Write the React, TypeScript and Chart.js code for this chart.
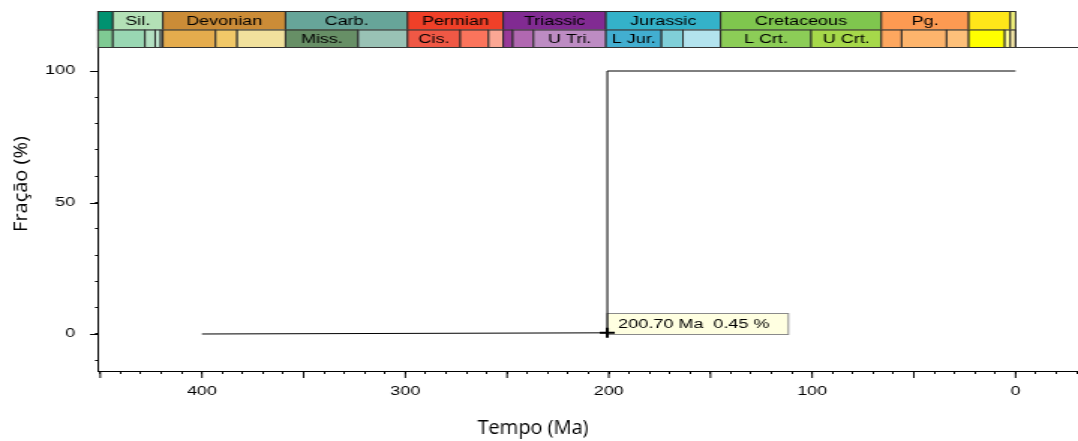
import React, { useEffect, useRef } from 'react';
import { Chart, registerables } from 'chart.js';

Chart.register(...registerables);

// ---- data ----
const stepAges = [400, 200.7, 200.7, 0];
const stepFractions = [0, 0.45, 100, 100];
const markerAge = [200.7];
const markerFraction = [0.45];
const markerLabel = '200.70 Ma  0.45 %';

const xTitle = 'Tempo (Ma)';
const yTitle = 'Fração (%)';

const periodLabels = ['', 'Sil.', 'Devonian', 'Carb.', 'Permian', 'Triassic', 'Jurassic', 'Cretaceous', 'Pg.', '', ''];
const periodStarts = [485.4, 443.8, 419.2, 358.9, 298.9, 251.9, 201.4, 145, 66, 23.03, 2.58];
const periodEnds = [443.8, 419.2, 358.9, 298.9, 251.9, 201.4, 145, 66, 23.03, 2.58, 0];
const periodColors = ['#009270', '#B3E1B6', '#CB8C37', '#67A599', '#F04028', '#812B92', '#34B2C9', '#7FC64E', '#FD9A52', '#FFE619', '#F9F97F'];

const epochLabels = ['', '', '', '', '', '', '', '', 'Miss.', '', 'Cis.', '', '', '', '', 'U Tri.', 'L Jur.', '', '', 'L Crt.', 'U Crt.', '', '', '', '', '', '', ''];
const epochStarts = [458.4, 443.8, 428, 423, 420.3, 419.2, 393.3, 382.7, 358.9, 323.2, 298.9, 273, 259.1, 251.9, 247.2, 237, 201.4, 174.1, 163.5, 145, 100.5, 66, 56, 33.9, 23.03, 5.333, 2.58, 0.0117];
const epochEnds = [443.8, 428, 423, 420.3, 419.2, 393.3, 382.7, 358.9, 323.2, 298.9, 273, 259.1, 251.9, 247.2, 237, 201.4, 174.1, 163.5, 145, 100.5, 66, 56, 33.9, 23.03, 5.333, 2.58, 0.0117, 0];
const epochColors = ['#7FCA93', '#99D7B3', '#B3E1C2', '#BFE6CF', '#E6F5E1', '#E5AC4D', '#F1C868', '#F1E19D', '#678F66', '#99C2B5', '#EF5845', '#FB745C', '#FBA794', '#983999', '#B168B1', '#BD8CC3', '#42AED0', '#80CFD8', '#B3E3EE', '#8CCD57', '#A6D84A', '#FDA75F', '#FDB46C', '#FDC07A', '#FFFF00', '#FFFF99', '#FFF2AE', '#FEF2E0'];

const xMin = -30.7;
const xMax = 451.1;
const yMin = -14.07;
const yMax = 108.75;

// ---- layout (internal canvas is narrower and stretched horizontally by CSS) ----
const CSS_W = 1078;
const H = 441;
const W = 719;
const SX = CSS_W / W;
const FONT = '"Liberation Sans", Arial, sans-serif';

function drawRow(ctx: any, xs: any, area: any, starts: number[], ends: number[], labels: string[], colors: string[], top: number, bottom: number) {
  ctx.save();
  ctx.font = `12px ${FONT}`;
  ctx.textAlign = 'center';
  ctx.textBaseline = 'middle';
  for (let i = 0; i < starts.length; i++) {
    const a = xs.getPixelForValue(starts[i]);
    const b = xs.getPixelForValue(ends[i]);
    const x0 = Math.max(Math.min(a, b), area.left);
    const x1 = Math.min(Math.max(a, b), area.right);
    if (x1 <= x0) continue;
    ctx.fillStyle = colors[i];
    ctx.fillRect(x0, top, x1 - x0, bottom - top);
    ctx.strokeStyle = '#2a2a2a';
    ctx.lineWidth = 1;
    ctx.strokeRect(x0, top + 0.5, x1 - x0, bottom - top);
    if (labels[i]) {
      ctx.fillStyle = '#000';
      ctx.fillText(labels[i], (x0 + x1) / 2, (top + bottom) / 2 + 1);
    }
  }
  ctx.restore();
}

const overlayPlugin = {
  id: 'overlay',
  beforeDatasetsDraw(chart: any) {
    const ctx = chart.ctx;
    const xs = chart.scales.x;
    const ys = chart.scales.y;
    const px = xs.getPixelForValue(markerAge[0]);
    const py = ys.getPixelForValue(markerFraction[0]);
    ctx.save();
    ctx.font = `12px ${FONT}`;
    const tw = ctx.measureText(markerLabel).width;
    const bx = px;
    const by = Math.round(py) - 20;
    const bw = tw + 20;
    const bh = 21;
    ctx.fillStyle = '#FFFFE1';
    ctx.fillRect(bx, by, bw, bh);
    ctx.strokeStyle = '#8a8a8a';
    ctx.lineWidth = 1;
    ctx.strokeRect(bx, by + 0.5, bw, bh);
    ctx.fillStyle = '#000';
    ctx.textAlign = 'left';
    ctx.textBaseline = 'middle';
    ctx.fillText(markerLabel, bx + 7.3, by + bh / 2 + 1);
    ctx.restore();
  },
  afterDraw(chart: any) {
    const ctx = chart.ctx;
    const xs = chart.scales.x;
    const ys = chart.scales.y;
    const area = chart.chartArea;

    // geologic time scale
    drawRow(ctx, xs, area, periodStarts, periodEnds, periodLabels, periodColors, 11, 29.5);
    drawRow(ctx, xs, area, epochStarts, epochEnds, epochLabels, epochColors, 29.5, 47);

    ctx.save();
    // top frame line
    ctx.strokeStyle = '#333';
    ctx.lineWidth = 1;
    ctx.beginPath();
    ctx.moveTo(area.left, 47.5);
    ctx.lineTo(area.right, 47.5);
    ctx.stroke();

    // longer ticks at multiples of 50
    ctx.strokeStyle = '#000';
    ctx.beginPath();
    xs.ticks.forEach((t: any) => {
      if (t.value % 50 === 0) {
        const p = xs.getPixelForValue(t.value);
        ctx.moveTo(p, area.bottom);
        ctx.lineTo(p, area.bottom + 7);
      }
    });
    ys.ticks.forEach((t: any) => {
      if (t.value % 50 === 0) {
        const p = Math.round(ys.getPixelForValue(t.value)) + 0.5;
        ctx.moveTo(area.left, p);
        ctx.lineTo(area.left - 8 / SX, p);
      }
    });
    ctx.stroke();

    // axis titles drawn unstretched
    ctx.scale(1 / SX, 1);
    ctx.fillStyle = '#000';
    ctx.font = '20px "Open Sans", "Noto Sans", sans-serif';
    ctx.textAlign = 'center';
    ctx.textBaseline = 'alphabetic';
    ctx.fillText(xTitle, 533, 434);
    ctx.translate(27, 184);
    ctx.rotate(-Math.PI / 2);
    ctx.fillText(yTitle, 0, 0);
    ctx.restore();
  },
};

export default function App() {
  const ref = useRef<HTMLCanvasElement | null>(null);

  useEffect(() => {
    if (!ref.current) return;
    const chart = new Chart(ref.current, {
      type: 'line',
      data: {
        datasets: [
          {
            type: 'line',
            data: stepAges.map((a, i) => ({ x: a, y: stepFractions[i] })),
            borderColor: '#000',
            borderWidth: 1,
            pointRadius: 0,
            tension: 0,
            fill: false,
          },
          {
            type: 'scatter',
            data: markerAge.map((a, i) => ({ x: a, y: markerFraction[i] })),
            pointStyle: 'cross',
            pointRadius: 5,
            borderColor: '#000',
            borderWidth: 2,
            backgroundColor: '#000',
          },
        ],
      },
      options: {
        responsive: false,
        devicePixelRatio: 1,
        animation: false,
        layout: { autoPadding: false, padding: { top: 48, left: 0, right: 0, bottom: 0 } },
        plugins: { legend: { display: false }, tooltip: { enabled: false } },
        scales: {
          x: {
            type: 'linear',
            reverse: true,
            min: xMin,
            max: xMax,
            ticks: {
              stepSize: 10,
              autoSkip: false,
              maxRotation: 0,
              includeBounds: false,
              padding: 10,
              color: '#000',
              font: { family: FONT, size: 12 },
              callback: (v: any) => (v % 100 === 0 ? String(v) : ''),
            },
            grid: { drawOnChartArea: false, drawTicks: true, tickLength: 3, color: '#000' },
            border: { display: true, color: '#000', width: 1 },
            afterFit: (s: any) => {
              s.height = 70;
              s.paddingLeft = 0;
              s.paddingRight = 0;
            },
          },
          y: {
            type: 'linear',
            min: yMin,
            max: yMax,
            ticks: {
              stepSize: 10,
              includeBounds: false,
              autoSkip: false,
              padding: 13.3,
              color: '#000',
              font: { family: FONT, size: 12 },
              callback: (v: any) => (v % 50 === 0 ? String(v) : ''),
            },
            grid: { drawOnChartArea: false, drawTicks: true, tickLength: 2, color: '#000' },
            border: { display: true, color: '#000', width: 1 },
            afterFit: (s: any) => {
              s.width = 98 / SX;
              s.paddingTop = 0;
              s.paddingBottom = 0;
            },
          },
        },
      },
      plugins: [overlayPlugin],
    } as any);
    return () => chart.destroy();
  }, []);

  return (
    <div style={{ position: 'fixed', left: 0, top: 0, width: CSS_W, height: H, background: '#fff' }}>
      <canvas ref={ref} width={W} height={H} style={{ display: 'block', width: `${CSS_W}px`, height: `${H}px` }} />
    </div>
  );
}
